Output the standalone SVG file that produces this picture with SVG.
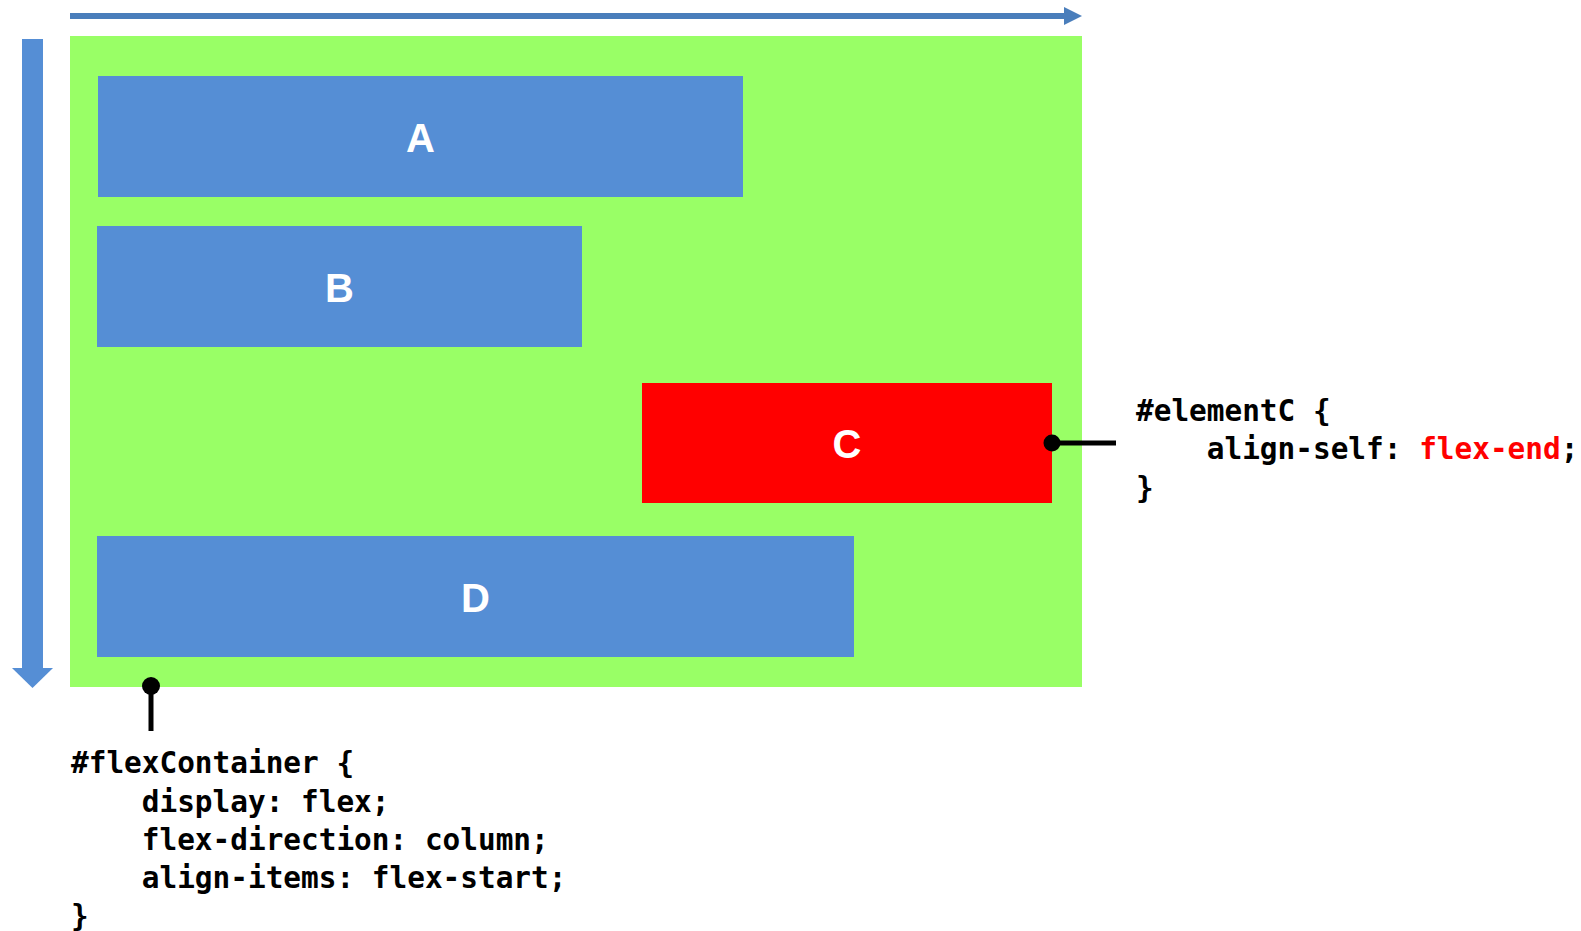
<svg xmlns="http://www.w3.org/2000/svg" width="1581" height="931" viewBox="0 0 1581 931">
<style>
.box{fill:#558ED5}
.lbl{font-family:"Liberation Sans",Arial,sans-serif;font-weight:bold;font-size:40px;fill:#fff;text-anchor:middle}
.code{font-family:"DejaVu Sans Mono","Liberation Mono",monospace;font-weight:bold;font-size:29.4px;fill:#000;white-space:pre}
.red{fill:#FF0000}
.conn{stroke:#000;stroke-width:5;fill:none}
</style>
<rect width="1581" height="931" fill="#fff"/>
<g id="axes">
<rect x="70" y="13" width="995" height="6" fill="#4A7EBB"/>
<polygon points="1064,7 1082,16 1064,25" fill="#4A7EBB"/>
<rect x="22" y="39" width="21" height="630" fill="#558ED5"/>
<polygon points="12,668 53,668 32.5,688" fill="#558ED5"/>
</g>
<g id="flexContainer">
<rect x="70" y="36" width="1012" height="651" fill="#99FF66"/>
</g>
<g id="A"><rect class="box" x="98" y="76" width="645" height="121"/><text class="lbl" x="420.5" y="152">A</text></g>
<g id="B"><rect class="box" x="97" y="226" width="485" height="121"/><text class="lbl" x="339.5" y="302">B</text></g>
<g id="C"><rect x="642" y="383" width="410" height="120" fill="#FF0000"/><text class="lbl" x="847" y="458">C</text></g>
<g id="D"><rect class="box" x="97" y="536" width="757" height="121"/><text class="lbl" x="475.5" y="612">D</text></g>
<g id="connectors">
<line class="conn" x1="151" y1="686" x2="151" y2="731"/>
<circle cx="151" cy="686" r="9" fill="#000"/>
<line class="conn" x1="1052" y1="443" x2="1116" y2="443"/>
<circle cx="1052" cy="443" r="8.5" fill="#000"/>
</g>
<g id="codeC">
<text class="code" x="1136" y="421">#elementC {</text>
<text class="code" x="1136" y="459">    align-self: <tspan class="red">flex-end</tspan>;</text>
<text class="code" x="1136" y="498">}</text>
</g>
<g id="codeContainer">
<text class="code" x="71" y="773">#flexContainer {</text>
<text class="code" x="71" y="812">    display: flex;</text>
<text class="code" x="71" y="850">    flex-direction: column;</text>
<text class="code" x="71" y="888">    align-items: flex-start;</text>
<text class="code" x="71" y="926">}</text>
</g>
</svg>
